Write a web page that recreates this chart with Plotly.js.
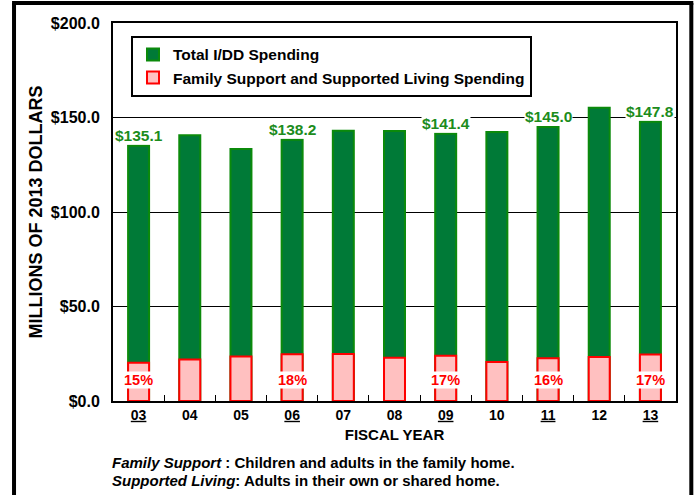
<!DOCTYPE html>
<html>
<head>
<meta charset="utf-8">
<script src="https://cdn.plot.ly/plotly-3.0.1.min.js"></script>
<style>
html, body { margin: 0; padding: 0; background: #ffffff; }
#chart { width: 699px; height: 495px; }
</style>
</head>
<body>
<div id="chart"></div>
<script>
// ---- data ----
var years = ['03', '04', '05', '06', '07', '08', '09', '10', '11', '12', '13'];
var totalSpending = [135.1, 140.6, 133.3, 138.2, 143.0, 142.8, 141.4, 142.3, 145.0, 155.2, 147.8];
var familySpending = [20.3, 22.0, 23.6, 24.7, 24.9, 22.9, 24.0, 20.6, 22.6, 23.3, 24.6];
var labeledYears = ['03', '06', '09', '11', '13'];
var pctLabels = ['15%', '18%', '17%', '16%', '17%'];
var yTickVals = [0, 50, 100, 150, 200];
var seriesNames = ['Total I/DD Spending', 'Family Support and Supported Living Spending'];
var footnoteTerms = ['Family Support', 'Supported Living'];
var footnoteDefs = ['Children and adults in the family home.', 'Adults in their own or shared home.'];

var FONT = 'Arial, "Liberation Sans", sans-serif';
var GREEN_FILL = '#007a37';
var GREEN_LINE = '#0b8a0b';
var GREEN_TEXT = '#1c8c1c';
var PINK_FILL = '#ffc0c0';
var RED = '#ff0000';

var idx = years.map(function (y, i) { return i; });

var traces = [
  {
    type: 'bar', x: idx, y: totalSpending, name: '<b>' + seriesNames[0] + '</b>',
    width: 0.41,
    marker: { color: GREEN_FILL, line: { color: GREEN_LINE, width: 2 } },
    hoverinfo: 'x+y'
  },
  {
    type: 'bar', x: idx, y: familySpending, name: '<b>' + seriesNames[1] + '</b>',
    width: 0.41,
    marker: { color: PINK_FILL, line: { color: RED, width: 2 } },
    hoverinfo: 'x+y'
  }
];

var annotations = [];
labeledYears.forEach(function (yr, k) {
  var i = years.indexOf(yr);
  annotations.push({
    x: i, y: totalSpending[i], xref: 'x', yref: 'y',
    text: '<b>$' + totalSpending[i].toFixed(1) + '</b>',
    showarrow: false, yanchor: 'bottom', yshift: 1,
    font: { family: FONT, size: 15.5, color: GREEN_TEXT },
    bgcolor: '#ffffff', borderpad: 0
  });
  annotations.push({
    x: i, y: 11, xref: 'x', yref: 'y',
    text: '<b>' + pctLabels[k] + '</b>',
    showarrow: false, yanchor: 'middle',
    font: { family: FONT, size: 14.5, color: RED },
    bgcolor: '#ffffff', borderpad: 0
  });
});

[-0.164, -0.209].forEach(function (yy, k) {
  annotations.push({
    xref: 'paper', yref: 'paper', x: -0.006, y: yy,
    xanchor: 'left', yanchor: 'middle', align: 'left', showarrow: false,
    text: '<b><i>' + footnoteTerms[k] + '</i>' + (k === 0 ? ' : ' : ': ') + footnoteDefs[k] + '</b>',
    font: { family: FONT, size: 15, color: '#000000' }
  });
});

var tickText = years.map(function (y) {
  return labeledYears.indexOf(y) >= 0 ? '<u>' + y + '</u>' : y;
});
var yTickText = yTickVals.map(function (v) { return '$' + v.toFixed(1); });

var layout = {
  width: 699, height: 495,
  margin: { l: 113, r: 23, t: 23, b: 94, pad: 0 },
  paper_bgcolor: '#ffffff', plot_bgcolor: '#ffffff',
  font: { family: FONT, color: '#000000' },
  barmode: 'overlay',
  showlegend: true,
  legend: {
    x: 0.032, y: 0.966, xanchor: 'left', yanchor: 'top',
    bgcolor: '#ffffff', bordercolor: '#000000', borderwidth: 2,
    font: { family: FONT, size: 15.5, color: '#000000' },
    traceorder: 'normal'
  },
  xaxis: {
    range: [-0.5, 10.5], tickvals: idx, ticktext: tickText,
    ticks: '', showline: true, linecolor: '#000000', linewidth: 2, mirror: true,
    showgrid: false, zeroline: false,
    minor: { tickvals: idx.slice(1).map(function (i) { return i - 0.5; }), ticks: 'inside', ticklen: 6, tickwidth: 1, tickcolor: '#000000', showgrid: false },
    tickfont: { family: FONT, size: 14, weight: 'bold', color: '#000000' },
    title: { text: '<b>FISCAL YEAR</b>', font: { family: FONT, size: 15, color: '#000000' }, standoff: 8 },
    automargin: false, fixedrange: true
  },
  yaxis: {
    range: [0, 200], tickvals: yTickVals, ticktext: yTickText,
    ticks: '', showline: true, linecolor: '#000000', linewidth: 2, mirror: true,
    showgrid: true, gridcolor: '#000000', gridwidth: 1, zeroline: false,
    tickfont: { family: FONT, size: 16, weight: 'bold', color: '#000000' },
    ticklabelstandoff: 8,
    title: { text: '<b>MILLIONS OF 2013 DOLLARS</b>', font: { family: FONT, size: 18, color: '#000000' }, standoff: 4 },
    automargin: false, fixedrange: true
  },
  annotations: annotations,
  shapes: [
    { type: 'line', xref: 'paper', yref: 'paper', x0: -0.1758, x1: -0.1758, y0: 1.0529, y1: -0.32, line: { color: '#000000', width: 4 } },
    { type: 'line', xref: 'paper', yref: 'paper', x0: 1.0272, x1: 1.0272, y0: 1.0529, y1: -0.32, line: { color: '#000000', width: 4 } },
    { type: 'line', xref: 'paper', yref: 'paper', x0: -0.1793, x1: 1.0307, y0: 1.0529, y1: 1.0529, line: { color: '#000000', width: 4 } }
  ]
};

Plotly.newPlot('chart', traces, layout, { displayModeBar: false, staticPlot: true });
</script>
</body>
</html>
